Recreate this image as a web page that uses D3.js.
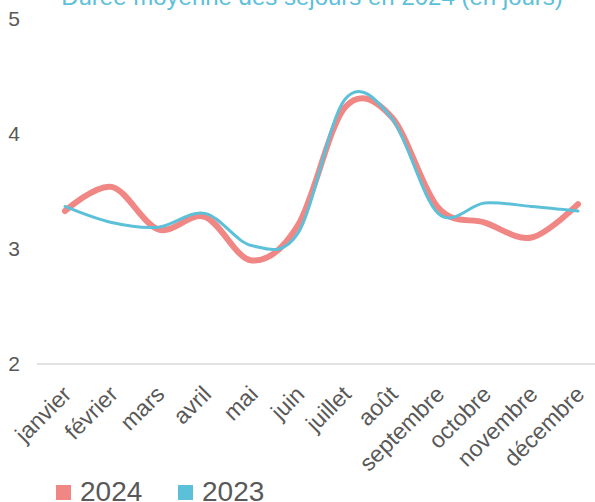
<!DOCTYPE html>
<html>
<head>
<meta charset="utf-8">
<script src="https://cdn.jsdelivr.net/npm/d3@7"></script>
<style>
  body { margin: 0; background: #fff; }
  text { font-family: "Liberation Sans", Arial, sans-serif; }
</style>
</head>
<body>
<div id="chart"></div>
<script>
// chart data
var months = ["janvier", "février", "mars", "avril", "mai", "juin", "juillet", "août", "septembre", "octobre", "novembre", "décembre"];
var values2024 = [3.33, 3.54, 3.17, 3.28, 2.90, 3.21, 4.23, 4.15, 3.36, 3.23, 3.10, 3.39];
var values2023 = [3.37, 3.23, 3.19, 3.31, 3.03, 3.14, 4.30, 4.14, 3.31, 3.40, 3.37, 3.33];
var yTicks = [2, 3, 4, 5];
var title = "Durée moyenne des séjours en 2024 (en jours)";

var svgWidth = 595;
var svgHeight = 502;

var svg = d3.select("#chart")
  .append("svg")
  .attr("width", svgWidth)
  .attr("height", svgHeight);

// scales
var x = d3.scalePoint()
  .domain(months)
  .range([65, 578]);

var y = d3.scaleLinear()
  .domain([2, 5])
  .range([364, 19]);

// title (cut off at the top)
svg.append("text")
  .attr("x", 312)
  .attr("y", 5)
  .attr("text-anchor", "middle")
  .attr("fill", "#5bc0d8")
  .style("font-size", "24px")
  .text(title);

// baseline
svg.append("line")
  .attr("x1", 37)
  .attr("x2", 595)
  .attr("y1", y(2))
  .attr("y2", y(2))
  .attr("stroke", "#d9d9d9")
  .attr("stroke-width", 1.5);

// y tick labels
svg.selectAll(".ylab")
  .data(yTicks)
  .enter()
  .append("text")
  .attr("class", "ylab")
  .attr("x", 14)
  .attr("y", d => y(d))
  .attr("dy", "0.35em")
  .attr("text-anchor", "middle")
  .attr("fill", "#595959")
  .style("font-size", "21px")
  .text(d => d);

// x labels, rotated
svg.selectAll(".xlab")
  .data(months)
  .enter()
  .append("text")
  .attr("class", "xlab")
  .attr("transform", d => `translate(${x(d) + 2}, ${390}) rotate(-45)`)
  .attr("text-anchor", "end")
  .attr("dy", "0.35em")
  .attr("fill", "#595959")
  .style("font-size", "23px")
  .text(d => d);

var line = d3.line()
  .x((d, i) => x(months[i]))
  .y(d => y(d))
  .curve(d3.curveCatmullRom.alpha(0));

svg.append("path")
  .datum(values2024)
  .attr("d", line)
  .attr("fill", "none")
  .attr("stroke", "#f08784")
  .attr("stroke-width", 6)
  .attr("stroke-linecap", "round");

svg.append("path")
  .datum(values2023)
  .attr("d", line)
  .attr("fill", "none")
  .attr("stroke", "#5bc0d8")
  .attr("stroke-width", 3)
  .attr("stroke-linecap", "round");

// legend
var legend = [{ name: "2024", color: "#f08784", x: 56 }, { name: "2023", color: "#5bc0d8", x: 178 }];
var lg = svg.selectAll(".legend")
  .data(legend)
  .enter()
  .append("g")
  .attr("transform", d => `translate(${d.x}, 501)`);

lg.append("rect")
  .attr("x", 0)
  .attr("y", -16)
  .attr("width", 15)
  .attr("height", 15)
  .attr("fill", d => d.color);

lg.append("text")
  .attr("x", 24)
  .attr("y", 0)
  .attr("fill", "#595959")
  .style("font-size", "28px")
  .text(d => d.name);
</script>
</body>
</html>
